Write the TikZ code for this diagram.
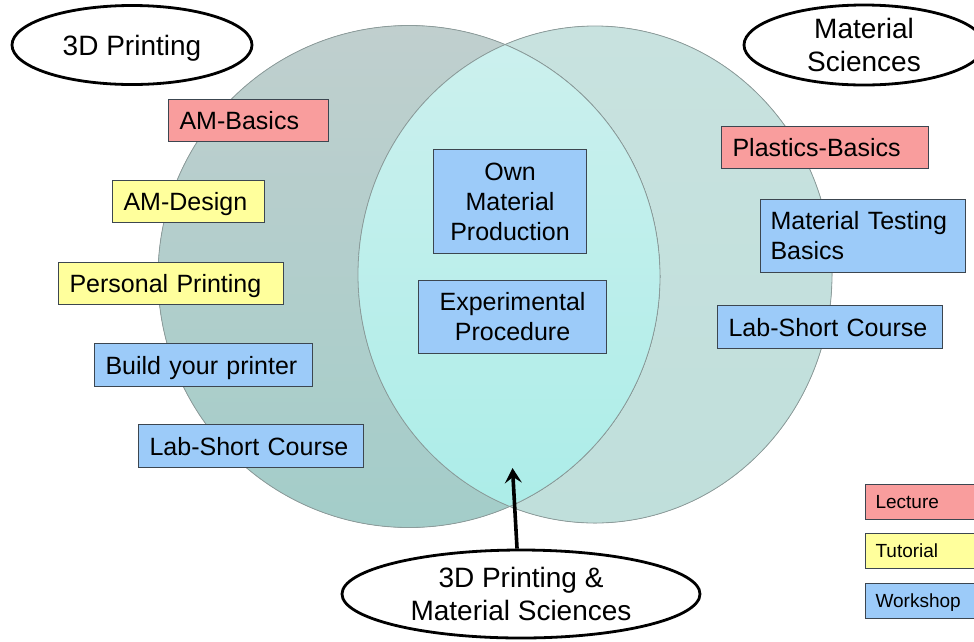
\documentclass[tikz,border=0pt]{standalone}
\usepackage{fontspec}
\setmainfont{Liberation Sans}
\usetikzlibrary{arrows.meta,shapes.geometric}

\definecolor{lectfill}{HTML}{F99D9D}
\definecolor{tutfill}{HTML}{FFFF9C}
\definecolor{workfill}{HTML}{9CCBF9}
\definecolor{boxline}{HTML}{3C4650}
\definecolor{leftTop}{HTML}{C0CFCE}
\definecolor{leftBot}{HTML}{A3CDC9}
\definecolor{rightTop}{HTML}{C8E2DF}
\definecolor{rightBot}{HTML}{C0DFDB}
\definecolor{lensTop}{HTML}{CDF0EE}
\definecolor{lensBot}{HTML}{ABEDE8}
\definecolor{ringline}{HTML}{8C9C9B}

\tikzset{
  course/.style={draw=boxline, line width=1.1pt, anchor=north west,
    inner xsep=11pt, inner ysep=0pt, align=left,
    font=\fontsize{25}{30}\selectfont},
  oneline/.style={text height=18pt, text depth=0pt},
  lecture/.style={course, oneline, fill=lectfill},
  tutorial/.style={course, oneline, fill=tutfill},
  workshop/.style={course, fill=workfill},
  legendbox/.style={draw=boxline, line width=1.1pt, anchor=north west,
    inner xsep=10pt, inner ysep=0pt, align=left,
    text height=13.6pt, text depth=0pt,
    font=\fontsize{19}{23}\selectfont},
  topic/.style={ellipse, draw=black, line width=2.8pt, fill=white,
    inner sep=0pt, align=center, font=\fontsize{28}{33}\selectfont},
  pointer/.style={line width=3.6pt, -{Stealth[length=15pt,width=17pt,inset=6pt]}}
}

\begin{document}
\begin{tikzpicture}[x=1pt, y=-1pt]
\useasboundingbox (0,0) rectangle (974,641);

% the two overlapping fields
\fill[top color=rightTop, bottom color=rightBot]
  (595,274.5) ellipse[x radius=237, y radius=248.5];
\fill[top color=leftTop, bottom color=leftBot]
  (409,276.5) circle[radius=251];
\begin{scope}
  \clip (409,276.5) circle[radius=251];
  \fill[top color=lensTop, bottom color=lensBot]
    (595,274.5) ellipse[x radius=237, y radius=248.5];
\end{scope}
\draw[ringline, line width=0.8pt] (409,276.5) circle[radius=251];
\draw[ringline, line width=0.8pt] (595,274.5) ellipse[x radius=237, y radius=248.5];

% topic labels
\node[topic, minimum width=240pt, minimum height=79pt, text height=20pt, text depth=0pt]
  (printing) at (132,45) {3D Printing};
\node[topic, minimum width=240pt, minimum height=80pt]
  (materials) at (864,45) {Material\\Sciences};
\node[topic, minimum width=358pt, minimum height=88pt]
  (both) at (521,594) {3D Printing \&\\Material Sciences};

% 3D printing courses
\node[lecture, text width=138pt, minimum height=42pt] (ambasics) at (168,99) {AM-Basics};
\node[tutorial, text width=130pt, minimum height=42pt] (amdesign) at (112,180) {AM-Design};
\node[tutorial, text width=203pt, minimum height=42pt] (personal) at (58,262) {Personal Printing};
\node[workshop, oneline, text width=196pt, minimum height=43pt] (build) at (94,343) {Build your printer};
\node[workshop, oneline, text width=203pt, minimum height=43pt] (labL) at (138,424) {Lab-Short Course};

% shared courses
\node[workshop, align=center, inner xsep=0pt, text width=153pt, minimum height=104pt]
  (own) at (433,149) {Own\\Material\\Production};
\node[workshop, align=center, inner xsep=0pt, text width=188pt, minimum height=73pt]
  (experiment) at (418,280) {Experimental\\Procedure};

% material science courses
\node[lecture, text width=185pt, minimum height=42pt] (plastics) at (721,126) {Plastics-Basics};
\node[workshop, inner xsep=10pt, text width=185pt, minimum height=73pt]
  (testing) at (760,199) {Material Testing\\Basics};
\node[workshop, oneline, text width=203pt, minimum height=43pt] (labR) at (717,305) {Lab-Short Course};

% legend
\node[legendbox, fill=lectfill, text width=100pt, minimum height=35pt] (keyLecture) at (865,484) {Lecture};
\node[legendbox, fill=tutfill, text width=100pt, minimum height=35pt] (keyTutorial) at (865,533) {Tutorial};
\node[legendbox, fill=workfill, text width=100pt, minimum height=35pt] (keyWorkshop) at (865,583) {Workshop};

% pointer into the overlap
\coordinate (lensSpot) at (512.5,468);
\draw[pointer] (both.95) -- (lensSpot);
\end{tikzpicture}
\end{document}
